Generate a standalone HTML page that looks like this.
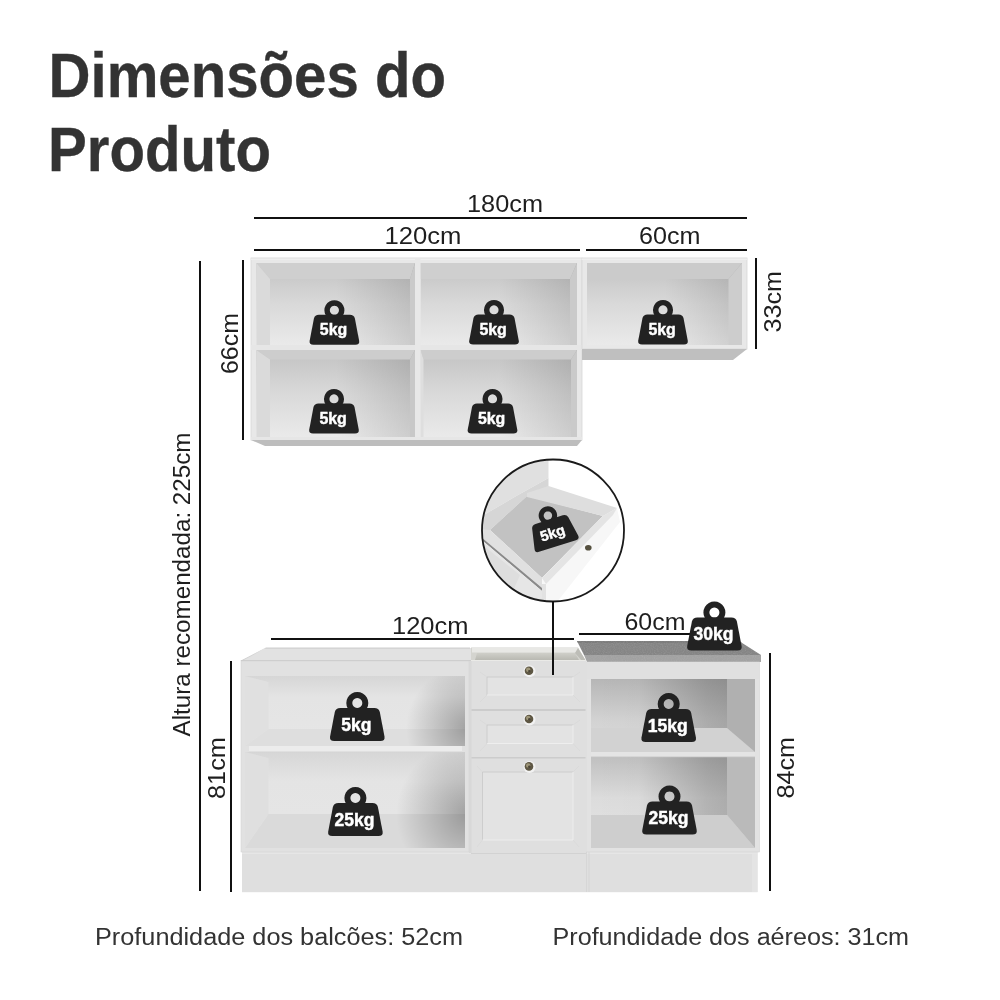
<!DOCTYPE html>
<html>
<head>
<meta charset="utf-8">
<style>
html,body{margin:0;padding:0;background:#fff;}
body{width:1000px;height:1000px;overflow:hidden;}
svg{display:block;font-family:"Liberation Sans",sans-serif;will-change:transform;}
</style>
</head>
<body>
<svg width="1000" height="1000" viewBox="0 0 1000 1000">
<defs>
  <linearGradient id="backw" x1="0" y1="0" x2="0" y2="1">
    <stop offset="0" stop-color="#c2c2c2"/>
    <stop offset="0.5" stop-color="#d9d9d9"/>
    <stop offset="1" stop-color="#eaeaea"/>
  </linearGradient>
  <linearGradient id="hshade" x1="0" y1="0" x2="1" y2="0">
    <stop offset="0" stop-color="#000" stop-opacity="0"/>
    <stop offset="0.5" stop-color="#000" stop-opacity="0"/>
    <stop offset="1" stop-color="#000" stop-opacity="0.13"/>
  </linearGradient>
  <linearGradient id="baseb" x1="0" y1="0" x2="0" y2="1">
    <stop offset="0" stop-color="#d6d6d6"/>
    <stop offset="0.3" stop-color="#e4e4e4"/>
    <stop offset="1" stop-color="#e6e6e6"/>
  </linearGradient>
  <linearGradient id="baseR" x1="0" y1="0" x2="0" y2="1">
    <stop offset="0" stop-color="#b6b6b6"/>
    <stop offset="0.55" stop-color="#d2d2d2"/>
    <stop offset="1" stop-color="#dedede"/>
  </linearGradient>
  <linearGradient id="baseR2" x1="0" y1="0" x2="0" y2="1">
    <stop offset="0" stop-color="#c0c0c0"/>
    <stop offset="0.45" stop-color="#dcdcdc"/>
    <stop offset="1" stop-color="#e4e4e4"/>
  </linearGradient>
  <linearGradient id="hshadeR" x1="0" y1="0" x2="1" y2="0">
    <stop offset="0" stop-color="#000" stop-opacity="0"/>
    <stop offset="0.35" stop-color="#000" stop-opacity="0.01"/>
    <stop offset="0.85" stop-color="#000" stop-opacity="0.19"/>
    <stop offset="1" stop-color="#000" stop-opacity="0.22"/>
  </linearGradient>
  <clipPath id="clipLU"><rect x="245" y="676" width="220" height="70"/></clipPath>
  <clipPath id="clipLL"><rect x="245" y="752" width="220" height="96"/></clipPath>
  <linearGradient id="sinkg" x1="0" y1="0" x2="0" y2="1">
    <stop offset="0" stop-color="#cfcfc9"/>
    <stop offset="1" stop-color="#b9b9b2"/>
  </linearGradient>
  <radialGradient id="radL1" gradientUnits="userSpaceOnUse" cx="468" cy="728" r="62" fx="468" fy="728">
    <stop offset="0" stop-color="#000" stop-opacity="0.3"/>
    <stop offset="0.5" stop-color="#000" stop-opacity="0.15"/>
    <stop offset="1" stop-color="#000" stop-opacity="0"/>
  </radialGradient>
  <radialGradient id="radL2" gradientUnits="userSpaceOnUse" cx="468" cy="814" r="72" fx="468" fy="814">
    <stop offset="0" stop-color="#000" stop-opacity="0.3"/>
    <stop offset="0.5" stop-color="#000" stop-opacity="0.15"/>
    <stop offset="1" stop-color="#000" stop-opacity="0"/>
  </radialGradient>
  <clipPath id="ctclip"><polygon points="577,641 739,641 761,655 761,662 587,662"/></clipPath>
  <filter id="noise" x="0" y="0" width="100%" height="100%">
    <feTurbulence type="fractalNoise" baseFrequency="0.9" numOctaves="2" seed="3"/>
    <feColorMatrix type="matrix" values="0 0 0 0 0.55  0 0 0 0 0.55  0 0 0 0 0.55  0 0 0 1.2 -0.45"/>
  </filter>
  <filter id="blur6" x="-50%" y="-50%" width="200%" height="200%"><feGaussianBlur stdDeviation="7"/></filter>
  <g id="wt">
    <path d="M0,-49 a11,11 0 1,0 0.01,0 Z M0,-43 a5,5 0 1,1 -0.01,0 Z" fill="#222" fill-rule="evenodd" stroke="none"/>
    <path d="M-17,-33 L17,-33 Q21.5,-33 22.5,-29 L27.2,-4.5 Q28,0 23,0 L-23,0 Q-28,0 -27.2,-4.5 L-22.5,-29 Q-21.5,-33 -17,-33 Z" fill="#222" stroke="none"/>
  </g>
</defs>

<!-- TITLE -->
<g fill="#333" stroke="#333" stroke-width="0.35" font-weight="bold" font-size="62.5">
  <text x="48.5" y="97" textLength="397.5" lengthAdjust="spacingAndGlyphs">Dimensões do</text>
  <text x="48" y="171" textLength="223" lengthAdjust="spacingAndGlyphs">Produto</text>
</g>

<g fill="#1e1e1e" font-size="23">
  <text x="467" y="212" textLength="76" lengthAdjust="spacingAndGlyphs">180cm</text>
  <text x="384.5" y="244" textLength="77" lengthAdjust="spacingAndGlyphs">120cm</text>
  <text x="639" y="244" textLength="61.5" lengthAdjust="spacingAndGlyphs">60cm</text>
  <text x="392" y="633.5" textLength="76.5" lengthAdjust="spacingAndGlyphs">120cm</text>
  <text x="624.5" y="629.5" textLength="61" lengthAdjust="spacingAndGlyphs">60cm</text>
  <text transform="translate(238,374) rotate(-90)" textLength="61" lengthAdjust="spacingAndGlyphs">66cm</text>
  <text transform="translate(780.5,332.5) rotate(-90)" textLength="61.5" lengthAdjust="spacingAndGlyphs">33cm</text>
  <text transform="translate(190,736.5) rotate(-90)" textLength="304" lengthAdjust="spacingAndGlyphs">Altura recomendada: 225cm</text>
  <text transform="translate(224.5,799) rotate(-90)" textLength="62" lengthAdjust="spacingAndGlyphs">81cm</text>
  <text transform="translate(793.5,798.5) rotate(-90)" textLength="61.5" lengthAdjust="spacingAndGlyphs">84cm</text>
</g>

<!-- FOOTER -->
<g fill="#333" font-size="23">
  <text x="95" y="945" textLength="368" lengthAdjust="spacingAndGlyphs">Profundidade dos balcões: 52cm</text>
  <text x="552.5" y="945" textLength="356.5" lengthAdjust="spacingAndGlyphs">Profundidade dos aéreos: 31cm</text>
</g>

<!-- WALL CABINETS -->
<g id="wall">
  <rect x="251" y="258" width="331" height="182" fill="#e8e8e8" stroke="#d8d8d8" stroke-width="0.8"/>
  <rect x="251" y="258.5" width="331" height="1.5" fill="#f0f0f0"/>
  <!-- cell A -->
  <rect x="256.5" y="263" width="158.5" height="82" fill="url(#backw)"/>
  <rect x="256.5" y="263" width="158.5" height="82" fill="url(#hshade)"/>
  <polygon points="256.5,263 415,263 410,279 270,279" fill="#cfcfcf"/>
  <polygon points="256.5,263 270,279 270,345 256.5,345" fill="#dadada"/>
  <polygon points="410,279 415,263 415,345 410,345" fill="#cacaca"/>
  <!-- cell B -->
  <rect x="420.5" y="263" width="156.5" height="82" fill="url(#backw)"/>
  <rect x="420.5" y="263" width="156.5" height="82" fill="url(#hshade)"/>
  <polygon points="420.5,263 577,263 570,279 420.5,279" fill="#cfcfcf"/>
  <polygon points="570,279 577,263 577,345 570,345" fill="#cacaca"/>
  <!-- cell C -->
  <rect x="256.5" y="350" width="158.5" height="87" fill="url(#backw)"/>
  <rect x="256.5" y="350" width="158.5" height="87" fill="url(#hshade)"/>
  <polygon points="256.5,350 415,350 410,359.5 270,359.5" fill="#cdcdcd"/>
  <polygon points="256.5,350 270,359.5 270,437 256.5,437" fill="#dadada"/>
  <polygon points="410,359.5 415,350 415,437 410,437" fill="#c8c8c8"/>
  <!-- cell D -->
  <rect x="420.5" y="350" width="156.5" height="87" fill="url(#backw)"/>
  <rect x="420.5" y="350" width="156.5" height="87" fill="url(#hshade)"/>
  <polygon points="420.5,350 577,350 571,359.5 423.5,359.5" fill="#cdcdcd"/>
  <polygon points="420.5,350 423.5,359.5 423.5,437 420.5,437" fill="#dedede"/>
  <polygon points="571,359.5 577,350 577,437 571,437" fill="#cacaca"/>
  <rect x="251" y="345" width="331" height="5" fill="#e6e6e6"/>
  <rect x="415" y="258" width="5.5" height="182" fill="#e8e8e8"/>
  <rect x="251" y="437" width="331" height="3" fill="#e6e6e6"/>
  <polygon points="251,440 582,440 577,446 265,446" fill="#bdbdbd"/>
  <!-- right wall cabinet -->
  <rect x="582" y="258" width="165" height="91" fill="#e8e8e8" stroke="#d8d8d8" stroke-width="0.8"/>
  <rect x="582" y="258.5" width="165" height="1.5" fill="#f0f0f0"/>
  <rect x="587" y="263" width="155" height="82" fill="url(#backw)"/>
  <rect x="587" y="263" width="155" height="82" fill="url(#hshade)"/>
  <polygon points="587,263 742,263 728.5,279 587,279" fill="#cbcbcb"/>
  <polygon points="728.5,279 742,263 742,345 728.5,345" fill="#cdcdcd"/>
  <polygon points="582,349 747,349 733,360 582,360" fill="#bfbfbf"/>
</g>

<!-- BASE CABINETS -->
<g id="base">
  <!-- plinth -->
  <rect x="242" y="852" width="515.5" height="40.2" fill="#dfdfdf"/>
  <rect x="242" y="852" width="515.5" height="2" fill="#e6e6e6"/>
  <rect x="752" y="854" width="5.5" height="38" fill="#e4e4e4"/>
  <rect x="586" y="852" width="1" height="40" fill="#d6d6d6"/>
  <rect x="588.5" y="852" width="1" height="40" fill="#d6d6d6"/>
  <!-- left base -->
  <polygon points="266,648 472,648 472,661 241,661" fill="#e2e2e2"/>
  <polygon points="266,647.5 470,647.5 470,648.8 264.5,648.8 242,661 240,661" fill="#cfcfcf"/>
  <rect x="241" y="660.2" width="231" height="1.2" fill="#c6c6c6"/>
  <rect x="241" y="661" width="228" height="191" fill="#e1e1e1" stroke="#d4d4d4" stroke-width="0.6"/>
  <rect x="245" y="676" width="220" height="70" fill="url(#baseb)"/>
  <polygon points="245,676 268.5,682 268.5,729 245,746" fill="#e0e0e0"/>
  <polygon points="268.5,729 465,729 465,746 245,746" fill="#dedede"/>
  <rect x="245" y="676" width="220" height="70" fill="url(#radL1)"/>
  <rect x="245" y="752" width="220" height="96" fill="url(#baseb)"/>
  <polygon points="245,752 268.5,758 268.5,814 245,848" fill="#dfdfdf"/>
  <polygon points="268.5,814 465,814 465,848 245,848" fill="#dadada"/>
  <rect x="245" y="752" width="220" height="96" fill="url(#radL2)"/>
  <rect x="249" y="746" width="213" height="6" fill="#ececec"/>
  <rect x="249" y="751.5" width="213" height="0.8" fill="#d4d4d4"/>
  <!-- drawer unit -->
  <polygon points="471,647.5 578,647.5 586,661 471,661" fill="#d4d4cf"/>
  <rect x="472" y="648" width="106" height="4.5" fill="#e8e8e5"/>
  <polygon points="477,653 575,653 579,660 475,660" fill="url(#sinkg)"/>
  <polygon points="578,648 586,661 582,661 575,653" fill="#bdbdb7"/>
  <rect x="471" y="660" width="115" height="1.5" fill="#eaeae7"/>
  <rect x="471" y="661" width="115" height="192.6" fill="#dfdfdf"/>
  <rect x="469" y="661" width="2.5" height="192" fill="#d8d8d8"/>
  <rect x="471.5" y="709" width="114" height="2" fill="#cccccc"/>
  <rect x="471.5" y="757" width="114" height="1.5" fill="#cccccc"/>
  <rect x="471" y="853" width="115" height="1" fill="#d2d2d2"/>
  <rect x="487" y="677" width="86" height="18" fill="#e3e3e3"/>
  <path d="M487,695 L487,677 L573,677" fill="none" stroke="#cbcbcb" stroke-width="0.9"/>
  <path d="M573,677 L573,695 L487,695" fill="none" stroke="#efefef" stroke-width="0.9"/>
  <path d="M480,672 L487,677 M580,672 L573,677 M480,702 L487,695 M580,702 L573,695" stroke="#d6d6d6" stroke-width="0.6"/>
  <rect x="487" y="725" width="86" height="18.5" fill="#e3e3e3"/>
  <path d="M487,743.5 L487,725 L573,725" fill="none" stroke="#cbcbcb" stroke-width="0.9"/>
  <path d="M573,725 L573,743.5 L487,743.5" fill="none" stroke="#efefef" stroke-width="0.9"/>
  <path d="M480,720 L487,725 M580,720 L573,725 M480,751 L487,743.5 M580,751 L573,743.5" stroke="#d6d6d6" stroke-width="0.6"/>
  <rect x="482.5" y="772" width="90.5" height="68" fill="#e3e3e3"/>
  <path d="M482.5,840 L482.5,772 L573,772" fill="none" stroke="#cbcbcb" stroke-width="0.9"/>
  <path d="M573,772 L573,840 L482.5,840" fill="none" stroke="#efefef" stroke-width="0.9"/>
  <path d="M477,766 L482.5,772 M579,766 L573,772 M477,847 L482.5,840 M579,847 L573,840" stroke="#d6d6d6" stroke-width="0.6"/>
  <g fill="#f2f2f2"><circle cx="529.5" cy="671.3" r="6"/><circle cx="529.5" cy="719.5" r="6"/><circle cx="529.5" cy="766.9" r="6"/></g>
  <g fill="#5e5744"><circle cx="529" cy="670.8" r="4.3"/><circle cx="529" cy="719" r="4.3"/><circle cx="529" cy="766.4" r="4.3"/></g>
  <g fill="#9e9679"><circle cx="528.2" cy="669.8" r="2.2"/><circle cx="528.2" cy="718" r="2.2"/><circle cx="528.2" cy="765.4" r="2.2"/></g>
  <g fill="#4a4436"><circle cx="529.3" cy="671.1" r="1.2"/><circle cx="529.3" cy="719.3" r="1.2"/><circle cx="529.3" cy="766.7" r="1.2"/></g>
  <!-- right base -->
  <polygon points="577,641 739,641 761,655 584,655" fill="#858585"/>
  <polygon points="577,641 739,641 742,643 578,643" fill="#7c7c7c"/>
  <polygon points="584,655 761,655 761,662 587,662" fill="#a2a2a2"/>
  <g clip-path="url(#ctclip)"><rect x="577" y="641" width="184" height="21" filter="url(#noise)" opacity="0.35"/></g>
  <rect x="586.5" y="662" width="173" height="190" fill="#e2e2e2" stroke="#d4d4d4" stroke-width="0.6"/>
  <rect x="586.5" y="662" width="173" height="17" fill="#e0e0e0"/>
  <rect x="591" y="679" width="164" height="73" fill="url(#baseR)"/>
  <rect x="591" y="679" width="136" height="49" fill="url(#hshadeR)"/>
  <polygon points="591,728 727,728 755,752 591,752" fill="#d2d2d2"/>
  <polygon points="727,679 755,679 755,752 727,728" fill="#b0b0b0"/>
  <rect x="591" y="757" width="164" height="91" fill="url(#baseR2)"/>
  <rect x="591" y="757" width="136" height="58" fill="url(#hshadeR)"/>
  <polygon points="591,815 727,815 755,848 591,848" fill="#cecece"/>
  <polygon points="727,757 755,757 755,848 727,815" fill="#bababa"/>
  <rect x="591" y="752" width="164" height="5" fill="#e4e4e4"/>
  <rect x="591" y="756.5" width="164" height="0.8" fill="#c8c8c8"/>
</g>

<!-- CIRCLE -->
<clipPath id="cc"><circle cx="553" cy="530.5" r="71"/></clipPath>
<g clip-path="url(#cc)">
  <rect x="480" y="458" width="147" height="147" fill="#fff"/>
  <!-- cabinet face above drawer -->
  <polygon points="470,470 548.5,452 548.5,478 518,495 482,516 470,522" fill="#e0e0e0"/>
  <!-- drawer back / floor -->
  <polygon points="470,522 482,516 518,495 548.5,478 548.5,487 527,496 490,530 470,540" fill="#d6d6d6"/>
  <polygon points="490,530 527,496 603,516 542,578" fill="#c2c2c2"/>
  <!-- right side wall top -->
  <polygon points="527,493 548.5,486 617,508 605,516 603,516 527,497" fill="#dedede"/>
  <!-- left side wall -->
  <polygon points="470,528 490,530 542,578 542,590 484,540 470,534" fill="#e0e0e0"/>
  <!-- slide rail -->
  <polygon points="470,532 484,539.5 542,588 542,591 484,542 470,536" fill="#8a8a8a"/>
  <!-- lower-left interior -->
  <polygon points="470,536 484,542 542,591 543,610 470,610" fill="#e6e6e6"/>
  <polygon points="484,546 520,575 510,598 482,575" fill="#dedede"/>
  <!-- drawer front panel -->
  <polygon points="603,516 617,508 620,522 557,602 543,602 542,578" fill="#f7f7f7"/>
  <polygon points="603,516 617,508 613,515 546,584 542,578" fill="#e4e4e4"/>
  <polygon points="542,584 546,584 546,605 542,605" fill="#e2e2e2"/>
  <ellipse cx="588.3" cy="547.8" rx="3.3" ry="2.8" fill="#55503f"/>
</g>
<circle cx="553" cy="530.5" r="71" fill="none" stroke="#1a1a1a" stroke-width="1.8"/>

<!-- DIMENSION LINES -->
<g fill="#111">
  <rect x="254" y="217" width="493" height="2"/>
  <rect x="254" y="249" width="326" height="2"/>
  <rect x="586" y="249" width="161" height="2"/>
  <rect x="242" y="260" width="2" height="180"/>
  <rect x="755" y="258" width="2" height="91"/>
  <rect x="199" y="261" width="2" height="630"/>
  <rect x="230" y="661" width="2" height="231"/>
  <rect x="271" y="638" width="303" height="2"/>
  <rect x="579" y="633" width="125" height="2"/>
  <rect x="769" y="653" width="2" height="238"/>
  <rect x="552" y="601" width="2" height="74"/>
</g>

<!-- WEIGHTS -->
<g id="weights" font-weight="bold" text-anchor="middle" fill="#fff" stroke="#fff" stroke-width="0.45">
  <g transform="translate(334.4,344.8) scale(0.91)"><use href="#wt"/><text x="-1" y="-10.5" font-size="17.5">5kg</text></g>
  <g transform="translate(494,344.5) scale(0.91)"><use href="#wt"/><text x="-1" y="-10.5" font-size="17.5">5kg</text></g>
  <g transform="translate(663,344.5) scale(0.91)"><use href="#wt"/><text x="-1" y="-10.5" font-size="17.5">5kg</text></g>
  <g transform="translate(334,433.5) scale(0.91)"><use href="#wt"/><text x="-1" y="-10.5" font-size="17.5">5kg</text></g>
  <g transform="translate(492.5,433.5) scale(0.91)"><use href="#wt"/><text x="-1" y="-10.5" font-size="17.5">5kg</text></g>
  <g transform="translate(357.3,741)"><use href="#wt"/><text x="-1" y="-10.5" font-size="17.5">5kg</text></g>
  <g transform="translate(355.4,836)"><use href="#wt"/><text x="-1" y="-10.5" font-size="17.5">25kg</text></g>
  <g transform="translate(668.7,742)"><use href="#wt"/><text x="-1" y="-10.5" font-size="17.5">15kg</text></g>
  <g transform="translate(669.5,834.4)"><use href="#wt"/><text x="-1" y="-10.5" font-size="17.5">25kg</text></g>
  <g transform="translate(714.4,650.6)"><use href="#wt"/><text x="-1" y="-10.5" font-size="17.5">30kg</text></g>
  <g transform="translate(553.2,532.4) rotate(-17.5) scale(0.84) translate(0,17)"><use href="#wt"/><text x="-1" y="-10.5" font-size="17.5">5kg</text></g>
</g>
</svg>
</body>
</html>
